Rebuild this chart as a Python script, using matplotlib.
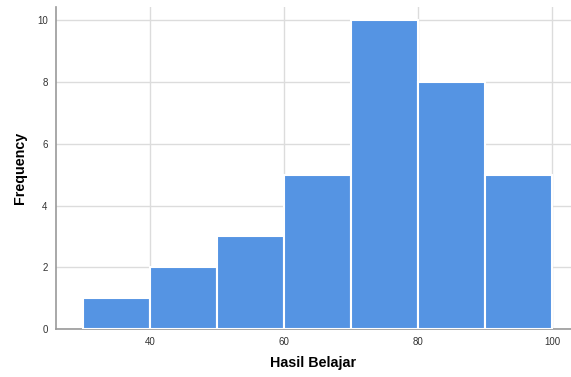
import matplotlib.pyplot as plt

# Data
bin_edges = [30, 40, 50, 60, 70, 80, 90, 100]
counts = [1, 2, 3, 5, 10, 8, 5]
x_ticks = [40, 60, 80, 100]
y_ticks = [0, 2, 4, 6, 8, 10]

plt.rcParams['font.family'] = ['Liberation Sans', 'DejaVu Sans']

fig = plt.figure(figsize=(5.71, 3.77), dpi=100)
ax = fig.add_axes([0.098, 0.127, 0.902, 0.854])

widths = [b - a for a, b in zip(bin_edges[:-1], bin_edges[1:])]
ax.bar(bin_edges[:-1], counts, width=widths, align='edge',
       color='#5594e3', edgecolor='white', linewidth=1.5, zorder=3)

ax.set_xlim(26, 102.8)
ax.set_ylim(0, 10.42)
ax.set_xticks(x_ticks)
ax.set_yticks(y_ticks)
ax.grid(True, color='#dcdcdc', linewidth=1.0, zorder=0)
ax.tick_params(length=0, labelsize=7, colors='#333333', pad=6)

for side in ['top', 'right']:
    ax.spines[side].set_visible(False)
for side in ['left', 'bottom']:
    ax.spines[side].set_color('#999999')
    ax.spines[side].set_linewidth(1.2)

ax.set_xlabel('Hasil Belajar', fontsize=10.3, fontweight='bold', labelpad=6)
ax.set_ylabel('Frequency', fontsize=10.3, fontweight='bold', labelpad=7)

fig.savefig('out.png', dpi=100)
